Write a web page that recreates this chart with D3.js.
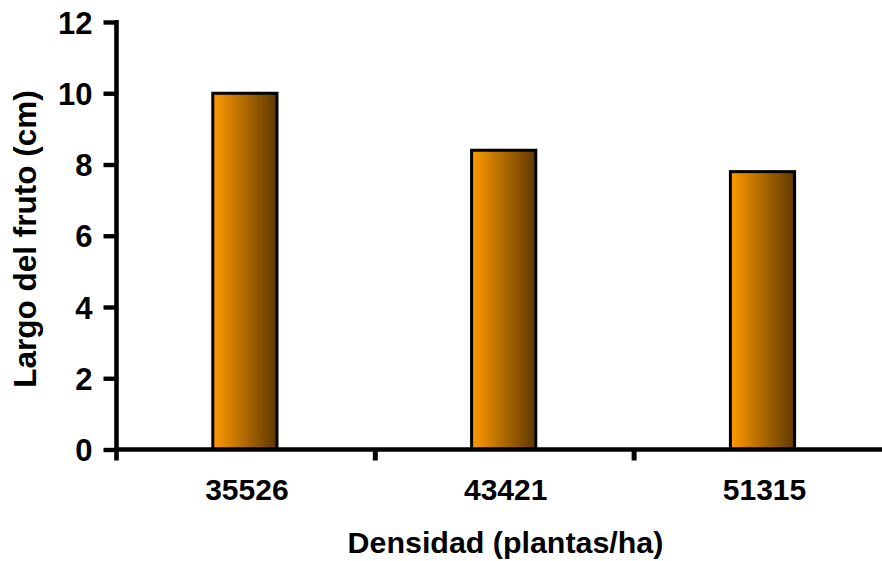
<!DOCTYPE html>
<html>
<head>
<meta charset="utf-8">
<script src="https://cdn.jsdelivr.net/npm/d3@7"></script>
<style>
  html, body { margin: 0; padding: 0; background: #fff; }
  svg { display: block; }
  text { font-family: "Liberation Sans", Arial, sans-serif; font-weight: bold; fill: #000; }
</style>
</head>
<body>
<svg id="chart" width="882" height="561"></svg>
<script>
// Fruit length by planting density
const densities = ["35526", "43421", "51315"];
const fruitLength = [10, 8.4, 7.8];
const yTicks = [0, 2, 4, 6, 8, 10, 12];
const xTitle = "Densidad (plantas/ha)";
const yTitle = "Largo del fruto (cm)";

const svg = d3.select("#chart");
const plotLeft = 115.5, plotBottom = 449.5, plotTop = 22;
const step = 258.8;

const x = d3.scaleBand().domain(densities).range([plotLeft, plotLeft + step * densities.length]).padding(0);
const y = d3.scaleLinear().domain([0, 12]).range([plotBottom, plotTop]);

// Bar gradient: orange on the left fading to dark brown on the right
const defs = svg.append("defs");
const grad = defs.append("linearGradient").attr("id", "barFill")
  .attr("x1", "0%").attr("x2", "100%").attr("y1", "0%").attr("y2", "0%");
grad.append("stop").attr("offset", "0%").attr("stop-color", "#ff9a00");
grad.append("stop").attr("offset", "100%").attr("stop-color", "#5e3800");

const barW = x.bandwidth() * 0.248;

svg.append("g").selectAll("rect")
  .data(densities.map((d, i) => ({ d, v: fruitLength[i] })))
  .join("rect")
  .attr("x", p => x(p.d) + x.bandwidth() / 2 - barW / 2)
  .attr("y", p => y(p.v))
  .attr("width", barW)
  .attr("height", p => y(0) - y(p.v))
  .attr("fill", "url(#barFill)")
  .attr("stroke", "#000")
  .attr("stroke-width", 3);

// Y axis
const yAxis = svg.append("g").attr("transform", `translate(${plotLeft + 1},0)`)
  .call(d3.axisLeft(y).tickValues(yTicks).tickSize(13).tickPadding(11).tickFormat(d3.format("d")));
yAxis.select(".domain").remove();
yAxis.selectAll(".tick line").attr("stroke", "#000").attr("stroke-width", 4.4);
yAxis.selectAll(".tick text").attr("font-size", 31).attr("dy", "0.36em");
yAxis.append("line").attr("x1", 0).attr("x2", 0).attr("y1", plotTop - 2).attr("y2", plotBottom + 11)
  .attr("stroke", "#000").attr("stroke-width", 4.6);

// X axis
const boundaries = d3.range(densities.length + 1).map(i => plotLeft + i * step);
const xAxis = svg.append("g").attr("transform", `translate(0,${plotBottom})`);
xAxis.append("line").attr("x1", plotLeft).attr("x2", plotLeft + step * densities.length)
  .attr("y1", 0).attr("y2", 0).attr("stroke", "#000").attr("stroke-width", 4.4);
xAxis.selectAll("line.sep").data(boundaries.slice(1)).join("line")
  .attr("class", "sep")
  .attr("x1", d => d + 1).attr("x2", d => d + 1).attr("y1", 0).attr("y2", 11)
  .attr("stroke", "#000").attr("stroke-width", 5);
xAxis.selectAll("text.cat").data(densities).join("text")
  .attr("class", "cat")
  .attr("x", d => x(d) + x.bandwidth() / 2 + 2)
  .attr("y", 50.5)
  .attr("text-anchor", "middle")
  .attr("font-size", 30)
  .text(d => d);

// Axis titles
svg.append("text")
  .attr("x", 505.5).attr("y", 553)
  .attr("text-anchor", "middle").attr("font-size", 30.4)
  .text(xTitle);

svg.append("text")
  .attr("transform", `translate(35.5,239) rotate(-90)`)
  .attr("text-anchor", "middle").attr("font-size", 31.5)
  .text(yTitle);
</script>
</body>
</html>
